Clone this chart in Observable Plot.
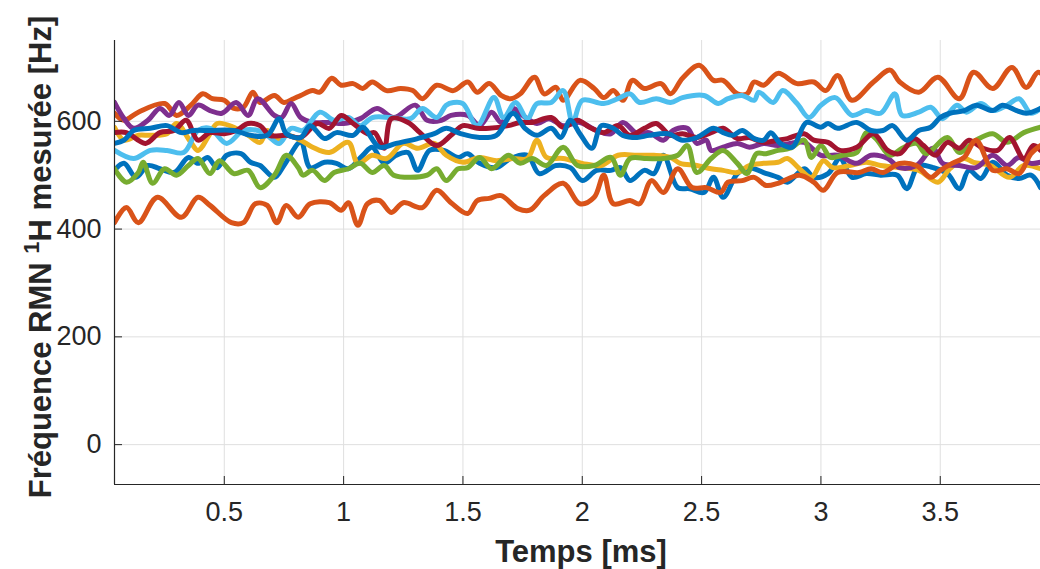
<!DOCTYPE html>
<html>
<head>
<meta charset="utf-8">
<script src="https://cdn.jsdelivr.net/npm/d3@7"></script>
<script src="https://cdn.jsdelivr.net/npm/@observablehq/plot@0.6"></script>
<style>
  html, body { margin: 0; padding: 0; background: #ffffff; }
  #chart { width: 1040px; height: 569px; overflow: hidden; }
</style>
</head>
<body>
<div id="chart"></div>
<script>
// ---- Data (time in ms, frequency in Hz) ----
const xTicks = [0.5, 1, 1.5, 2, 2.5, 3, 3.5];
const yTicks = [0, 200, 400, 600];
const xLabel = "Temps [ms]";
const yLabelParts = ["Fréquence RMN ", "1", "H mesurée [Hz]"];

const blueLow = [[0.04,509],[0.08,522],[0.13,496],[0.18,518],[0.23,512],[0.29,505],[0.35,533],[0.39,522],[0.43,533],[0.47,514],[0.51,537],[0.57,540],[0.61,524],[0.65,518],[0.71,496],[0.75,518],[0.82,561],[0.86,514],[0.92,524],[0.97,522],[1.02,512],[1.08,537],[1.12,552],[1.17,522],[1.22,537],[1.27,542],[1.31,509],[1.36,546],[1.42,546],[1.48,533],[1.52,540],[1.57,522],[1.64,514],[1.70,531],[1.77,537],[1.82,503],[1.89,518],[1.95,514],[2.00,490],[2.06,509],[2.12,509],[2.16,514],[2.20,490],[2.26,509],[2.30,503],[2.34,537],[2.40,477],[2.45,475],[2.51,468],[2.55,496],[2.59,459],[2.65,503],[2.70,514],[2.76,505],[2.82,496],[2.86,487],[2.93,512],[2.97,496],[3.03,503],[3.08,531],[3.13,496],[3.19,503],[3.25,500],[3.32,500],[3.36,475],[3.41,518],[3.47,514],[3.53,503],[3.58,475],[3.62,509],[3.67,494],[3.72,524],[3.78,500],[3.83,494],[3.88,500],[3.92,477]];

const orangeHigh = [[0.04,615],[0.08,602],[0.14,617],[0.25,633],[0.30,611],[0.36,630],[0.41,651],[0.45,642],[0.50,639],[0.54,624],[0.58,626],[0.62,654],[0.65,635],[0.71,648],[0.75,635],[0.79,642],[0.82,648],[0.87,657],[0.90,654],[0.95,680],[0.99,667],[1.04,670],[1.08,661],[1.12,673],[1.18,657],[1.24,661],[1.29,657],[1.33,642],[1.39,667],[1.46,657],[1.52,673],[1.56,654],[1.61,670],[1.66,648],[1.70,642],[1.74,651],[1.80,682],[1.84,651],[1.89,663],[1.92,639],[1.99,676],[2.05,661],[2.09,644],[2.13,657],[2.17,639],[2.21,676],[2.26,661],[2.33,670],[2.37,651],[2.42,680],[2.49,704],[2.55,676],[2.59,676],[2.65,651],[2.69,651],[2.72,673],[2.76,667],[2.82,689],[2.90,670],[2.97,673],[3.02,657],[3.07,685],[3.13,639],[3.22,673],[3.29,695],[3.33,673],[3.41,654],[3.49,682],[3.58,642],[3.64,691],[3.72,661],[3.80,700],[3.86,663],[3.91,691],[3.94,680]];

const yellow = [[0.04,589],[0.08,565],[0.14,574],[0.19,574],[0.26,577],[0.30,596],[0.36,561],[0.39,546],[0.44,577],[0.47,596],[0.54,589],[0.60,574],[0.65,561],[0.68,583],[0.72,565],[0.76,574],[0.82,565],[0.87,552],[0.94,542],[1.02,561],[1.06,522],[1.12,537],[1.18,531],[1.25,559],[1.31,550],[1.38,559],[1.43,537],[1.50,524],[1.57,533],[1.64,527],[1.71,531],[1.77,531],[1.81,565],[1.85,533],[1.92,531],[2.00,522],[2.08,518],[2.15,537],[2.23,537],[2.30,537],[2.37,533],[2.41,522],[2.48,518],[2.54,512],[2.59,509],[2.65,505],[2.70,518],[2.76,522],[2.82,524],[2.86,531],[2.91,512],[2.96,496],[3.01,527],[3.05,514],[3.12,518],[3.19,524],[3.25,518],[3.33,514],[3.41,509],[3.49,487],[3.54,512],[3.60,531],[3.64,524],[3.71,518],[3.79,496],[3.85,518],[3.92,512]];

const purple = [[0.04,635],[0.08,605],[0.12,587],[0.18,602],[0.23,624],[0.27,611],[0.31,635],[0.35,611],[0.39,630],[0.44,620],[0.49,615],[0.55,635],[0.60,611],[0.64,642],[0.71,611],[0.74,607],[0.78,633],[0.82,607],[0.87,598],[0.94,598],[1.00,596],[1.07,605],[1.14,624],[1.21,607],[1.30,630],[1.35,602],[1.41,602],[1.45,611],[1.52,611],[1.57,592],[1.62,617],[1.66,598],[1.71,624],[1.75,611],[1.81,596],[1.86,605],[1.92,592],[1.99,598],[2.06,583],[2.12,577],[2.17,598],[2.23,577],[2.28,579],[2.34,565],[2.38,583],[2.44,587],[2.48,559],[2.52,565],[2.54,546],[2.59,552],[2.65,559],[2.70,552],[2.76,559],[2.82,555],[2.87,559],[2.93,561],[3.00,537],[3.07,537],[3.15,522],[3.21,537],[3.28,531],[3.33,514],[3.40,518],[3.47,550],[3.51,522],[3.58,518],[3.65,514],[3.72,537],[3.78,518],[3.83,533],[3.88,522],[3.92,524]];

const green = [[0.04,512],[0.09,487],[0.14,505],[0.16,524],[0.20,485],[0.25,512],[0.30,500],[0.35,518],[0.39,531],[0.44,503],[0.48,527],[0.54,503],[0.60,509],[0.65,477],[0.71,500],[0.76,537],[0.81,514],[0.83,500],[0.87,509],[0.92,490],[0.96,505],[1.02,512],[1.07,522],[1.12,505],[1.17,518],[1.21,500],[1.28,496],[1.35,500],[1.39,512],[1.43,490],[1.48,512],[1.52,514],[1.57,533],[1.62,512],[1.69,537],[1.74,522],[1.79,531],[1.85,518],[1.92,552],[1.98,518],[2.05,518],[2.12,533],[2.16,500],[2.20,531],[2.27,531],[2.34,531],[2.40,537],[2.44,555],[2.48,505],[2.54,531],[2.59,546],[2.65,522],[2.69,503],[2.73,540],[2.77,540],[2.82,546],[2.87,550],[2.93,565],[2.96,533],[3.00,555],[3.04,533],[3.09,537],[3.15,542],[3.19,579],[3.23,568],[3.29,537],[3.34,550],[3.40,559],[3.44,540],[3.53,570],[3.58,542],[3.65,565],[3.72,577],[3.78,561],[3.85,579],[3.92,589]];

const lightBlue = [[0.04,546],[0.12,531],[0.19,546],[0.26,546],[0.33,542],[0.39,583],[0.44,587],[0.51,559],[0.58,583],[0.64,583],[0.68,574],[0.73,559],[0.78,587],[0.83,583],[0.90,617],[0.96,602],[1.02,607],[1.07,592],[1.12,607],[1.20,607],[1.28,605],[1.33,624],[1.39,607],[1.43,630],[1.46,635],[1.50,633],[1.56,592],[1.63,644],[1.67,607],[1.72,635],[1.77,605],[1.81,633],[1.87,635],[1.92,657],[1.96,598],[2.00,639],[2.09,633],[2.15,642],[2.20,651],[2.24,635],[2.31,642],[2.37,635],[2.42,644],[2.51,648],[2.57,633],[2.61,642],[2.67,648],[2.72,639],[2.74,654],[2.80,635],[2.84,657],[2.90,633],[2.95,607],[3.00,630],[3.06,644],[3.13,611],[3.19,620],[3.25,615],[3.31,651],[3.34,611],[3.41,617],[3.46,626],[3.51,605],[3.57,630],[3.61,617],[3.67,633],[3.72,620],[3.78,630],[3.83,642],[3.88,615],[3.92,624]];

const darkRed = [[0.04,579],[0.09,579],[0.17,559],[0.23,579],[0.29,583],[0.34,602],[0.39,565],[0.44,579],[0.50,577],[0.55,583],[0.60,596],[0.65,592],[0.69,574],[0.76,574],[0.82,570],[0.89,596],[0.94,587],[0.99,611],[1.04,596],[1.10,577],[1.13,579],[1.17,550],[1.20,605],[1.27,598],[1.32,579],[1.39,555],[1.45,574],[1.50,592],[1.56,587],[1.61,587],[1.69,592],[1.74,598],[1.79,598],[1.87,607],[1.92,589],[1.98,602],[2.03,589],[2.09,579],[2.15,592],[2.20,574],[2.26,587],[2.31,596],[2.37,574],[2.42,577],[2.48,570],[2.54,579],[2.59,587],[2.65,568],[2.70,570],[2.76,561],[2.82,565],[2.86,568],[2.93,577],[2.97,565],[3.03,561],[3.08,546],[3.15,552],[3.22,577],[3.28,546],[3.33,540],[3.39,568],[3.43,555],[3.48,537],[3.53,561],[3.58,550],[3.62,565],[3.68,550],[3.74,546],[3.79,570],[3.85,531],[3.89,555],[3.92,546]];

const blueHigh = [[0.04,559],[0.08,565],[0.12,583],[0.19,587],[0.26,592],[0.32,579],[0.37,583],[0.44,583],[0.54,583],[0.61,574],[0.68,574],[0.73,605],[0.76,577],[0.82,570],[0.86,592],[0.92,568],[0.97,579],[1.04,574],[1.08,589],[1.15,552],[1.22,559],[1.31,568],[1.38,577],[1.43,587],[1.49,577],[1.57,570],[1.64,574],[1.71,615],[1.76,587],[1.81,574],[1.87,587],[1.91,570],[1.95,602],[1.99,577],[2.04,550],[2.08,592],[2.13,587],[2.17,574],[2.23,570],[2.28,574],[2.36,577],[2.42,565],[2.48,570],[2.55,587],[2.59,579],[2.63,574],[2.67,583],[2.72,568],[2.76,565],[2.79,579],[2.83,559],[2.88,552],[2.94,598],[3.00,589],[3.03,596],[3.07,587],[3.15,598],[3.21,583],[3.26,583],[3.30,592],[3.36,565],[3.41,583],[3.46,589],[3.50,607],[3.54,615],[3.60,620],[3.65,630],[3.72,620],[3.76,630],[3.82,620],[3.86,615],[3.92,624]];

const orangeLow = [[0.04,412],[0.09,440],[0.14,412],[0.22,459],[0.32,422],[0.39,459],[0.44,444],[0.53,412],[0.58,412],[0.63,447],[0.68,444],[0.72,412],[0.76,444],[0.81,422],[0.86,447],[0.94,449],[0.99,435],[1.02,449],[1.06,407],[1.10,447],[1.15,453],[1.20,431],[1.25,449],[1.33,440],[1.39,472],[1.45,449],[1.52,429],[1.56,453],[1.61,457],[1.66,462],[1.73,438],[1.78,435],[1.84,462],[1.92,485],[1.99,447],[2.05,459],[2.09,500],[2.13,447],[2.20,453],[2.24,447],[2.29,490],[2.34,468],[2.40,512],[2.46,477],[2.52,477],[2.58,468],[2.61,487],[2.67,490],[2.72,496],[2.77,481],[2.82,485],[2.91,500],[2.97,487],[3.01,472],[3.07,505],[3.16,505],[3.21,512],[3.26,505],[3.33,522],[3.40,518],[3.46,496],[3.50,509],[3.55,522],[3.60,533],[3.65,565],[3.72,509],[3.78,512],[3.83,503],[3.88,540],[3.92,555]];

const seriesNames = ["blueLow", "orangeHigh", "yellow", "purple", "green", "lightBlue", "darkRed", "blueHigh", "orangeLow"];
const seriesColors = ["#0072BD", "#D95319", "#EDB120", "#7E2F8E", "#77AC30", "#4DBEEE", "#A2142F", "#0072BD", "#D95319"];
const seriesData = [blueLow, orangeHigh, yellow, purple, green, lightBlue, darkRed, blueHigh, orangeLow];

const xDomain = [0.04, 3.92];
const yDomain = [-74, 750];

// ---- Build table ----
const rows = [];
seriesNames.forEach((name, i) => {
  seriesData[i].forEach(([t, v]) => rows.push({t, v, s: name}));
});

const W = 1040, H = 569;
const mL = 114, mR = 0, mT = 40, mB = 85;
const frameW = W - mL - mR, frameH = H - mT - mB;
const FONT = "'Liberation Sans', Arial, Helvetica, sans-serif";
const INK = "#262626";
const GRID = "#dfdfdf";

const chart = Plot.plot({
  width: W,
  height: H,
  marginLeft: mL,
  marginRight: mR,
  marginTop: mT,
  marginBottom: mB,
  style: {background: "#ffffff", color: INK, fontFamily: FONT, overflow: "hidden"},
  x: {domain: xDomain},
  y: {domain: yDomain},
  color: {domain: seriesNames, range: seriesColors},
  marks: [
    Plot.gridX(xTicks, {stroke: GRID, strokeOpacity: 1, strokeWidth: 1}),
    Plot.gridY(yTicks, {stroke: GRID, strokeOpacity: 1, strokeWidth: 1}),
    Plot.line(rows, {x: "t", y: "v", z: "s", stroke: "s", strokeWidth: 5, curve: "catmull-rom", clip: true, strokeLinejoin: "round", strokeLinecap: "round"}),
    Plot.ruleX([xDomain[0]], {stroke: INK, strokeWidth: 1.2}),
    Plot.ruleY([yDomain[0]], {stroke: INK, strokeWidth: 1.2}),
    Plot.tickX(xTicks, {x: d => d, stroke: INK, strokeWidth: 1, insetTop: frameH - 8}),
    Plot.tickY(yTicks, {y: d => d, stroke: INK, strokeWidth: 1, insetRight: frameW - 8}),
    Plot.axisX(xTicks, {tickSize: 0, tickPadding: 17, fontSize: 27, label: null, fill: INK, tickFormat: d => String(d)}),
    Plot.axisY(yTicks, {tickSize: 0, tickPadding: 13, fontSize: 27, label: null, fill: INK, tickFormat: d => String(d)})
  ]
});

document.getElementById("chart").appendChild(chart);

// ---- Axis titles ----
const svg = d3.select(chart);
svg.append("text")
  .attr("x", 581).attr("y", 562)
  .attr("text-anchor", "middle")
  .attr("font-family", FONT).attr("font-weight", "bold").attr("font-size", 31)
  .attr("fill", INK)
  .text(xLabel);

const yt = svg.append("text")
  .attr("transform", "translate(51,257) rotate(-90)")
  .attr("text-anchor", "middle")
  .attr("font-family", FONT).attr("font-weight", "bold").attr("font-size", 31)
  .attr("fill", INK);
yt.append("tspan").text(yLabelParts[0]);
yt.append("tspan").attr("dy", -12).attr("font-size", 22).text(yLabelParts[1]);
yt.append("tspan").attr("dy", 12).text(yLabelParts[2]);
</script>
</body>
</html>
